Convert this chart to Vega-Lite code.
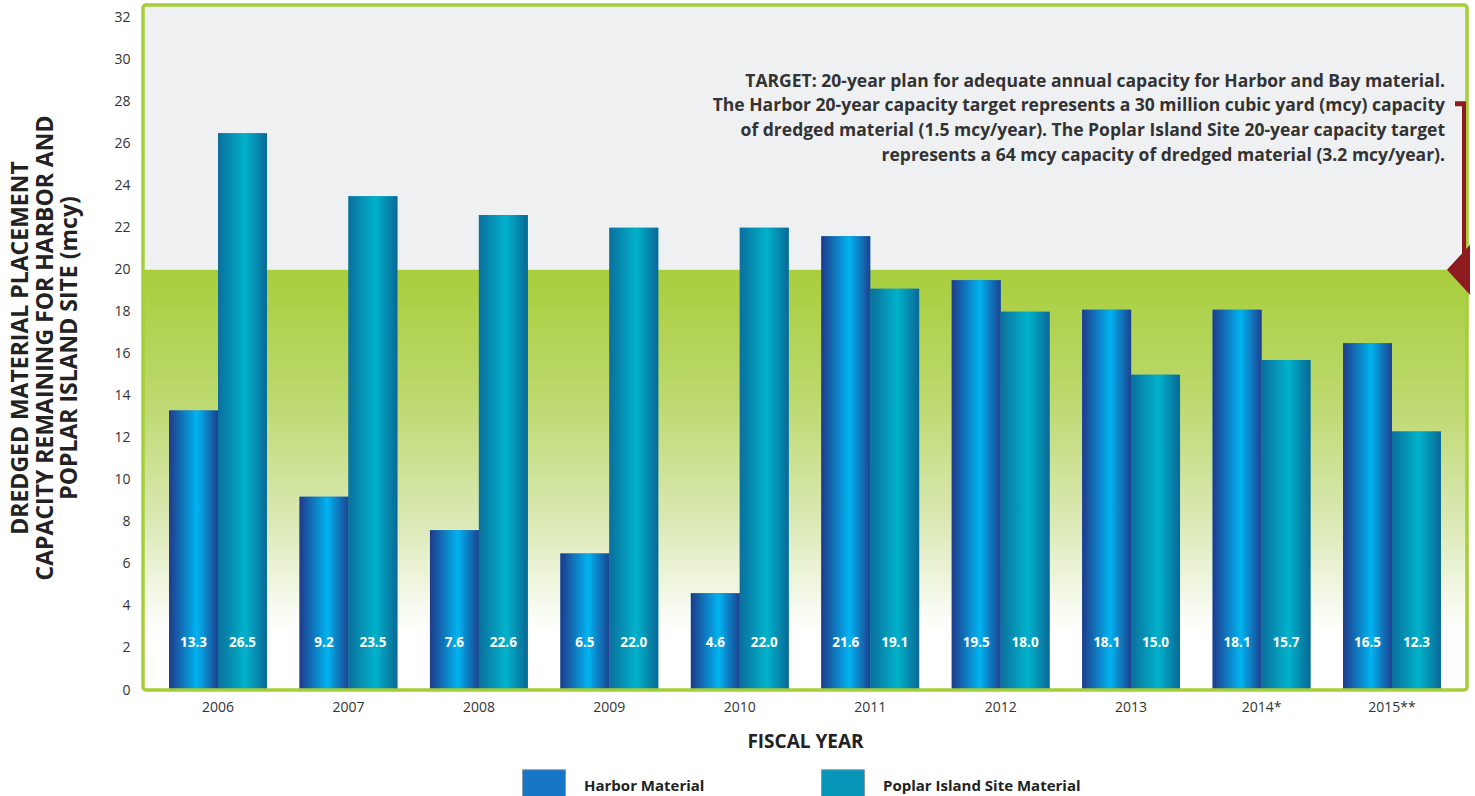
{
  "$schema": "https://vega.github.io/schema/vega-lite/v6.json",
  "width": 1324,
  "height": 685,
  "autosize": "none",
  "padding": {"left": 143, "top": 5, "right": 8, "bottom": 106},
  "background": "white",
  "config": {"view": {"stroke": null}, "font": "Open Sans"},
  "data": {
    "values": [
      {"year": "2006", "material": "Harbor Material", "value": 13.3},
      {"year": "2006", "material": "Poplar Island Site Material", "value": 26.5},
      {"year": "2007", "material": "Harbor Material", "value": 9.2},
      {"year": "2007", "material": "Poplar Island Site Material", "value": 23.5},
      {"year": "2008", "material": "Harbor Material", "value": 7.6},
      {"year": "2008", "material": "Poplar Island Site Material", "value": 22.6},
      {"year": "2009", "material": "Harbor Material", "value": 6.5},
      {"year": "2009", "material": "Poplar Island Site Material", "value": 22.0},
      {"year": "2010", "material": "Harbor Material", "value": 4.6},
      {"year": "2010", "material": "Poplar Island Site Material", "value": 22.0},
      {"year": "2011", "material": "Harbor Material", "value": 21.6},
      {"year": "2011", "material": "Poplar Island Site Material", "value": 19.1},
      {"year": "2012", "material": "Harbor Material", "value": 19.5},
      {"year": "2012", "material": "Poplar Island Site Material", "value": 18.0},
      {"year": "2013", "material": "Harbor Material", "value": 18.1},
      {"year": "2013", "material": "Poplar Island Site Material", "value": 15.0},
      {"year": "2014*", "material": "Harbor Material", "value": 18.1},
      {"year": "2014*", "material": "Poplar Island Site Material", "value": 15.7},
      {"year": "2015**", "material": "Harbor Material", "value": 16.5},
      {"year": "2015**", "material": "Poplar Island Site Material", "value": 12.3}
    ]
  },
  "layer": [
    {
      "data": {"values": [{}]},
      "mark": {"type": "rect", "fill": "#eff0f2"},
      "encoding": {
        "y": {
          "datum": 20, "type": "quantitative", "scale": {"domain": [0, 32.6], "nice": false},
          "axis": {
            "title": ["DREDGED MATERIAL PLACEMENT", "CAPACITY REMAINING FOR HARBOR AND", "POPLAR ISLAND SITE (mcy)"],
            "values": [0, 2, 4, 6, 8, 10, 12, 14, 16, 18, 20, 22, 24, 26, 28, 30, 32],
            "labelFontSize": 14, "labelColor": "#333", "ticks": false, "domain": false, "grid": false, "labelPadding": 13,
            "titleFontSize": 23, "titleFontWeight": "bold", "titleColor": "#222", "titleLineHeight": 24.5, "titlePadding": 32
          }
        },
        "y2": {"datum": 32.6}
      }
    },
    {
      "data": {"values": [{}]},
      "mark": {
        "type": "rect",
        "fill": {
          "gradient": "linear", "x1": 0, "y1": 0, "x2": 0, "y2": 1,
          "stops": [
            {"offset": 0, "color": "#a8ce3c"},
            {"offset": 0.3, "color": "#bcd86c"},
            {"offset": 0.6, "color": "#dbe9b5"},
            {"offset": 0.86, "color": "#ffffff"},
            {"offset": 1, "color": "#ffffff"}
          ]
        }
      },
      "encoding": {
        "y": {"datum": 0, "type": "quantitative"},
        "y2": {"datum": 20}
      }
    },
    {
      "mark": {"type": "bar"},
      "encoding": {
        "x": {
          "field": "year", "type": "nominal",
          "scale": {"paddingInner": 0.25, "paddingOuter": 0.2},
          "axis": {"title": "FISCAL YEAR", "labelAngle": 0, "labelFontSize": 14, "labelColor": "#333", "ticks": false, "domain": false, "labelPadding": 10,
                   "titleFontSize": 19, "titleFontWeight": "bold", "titleColor": "#222", "titlePadding": 18}
        },
        "xOffset": {"field": "material", "type": "nominal", "scale": {"paddingInner": 0, "paddingOuter": 0}},
        "y": {"field": "value", "type": "quantitative"},
        "color": {
          "field": "material", "type": "nominal",
          "scale": {"domain": ["Harbor Material", "Poplar Island Site Material"], "range": ["#1677c9", "#0896b8"]},
          "legend": {
            "orient": "none", "legendX": 379, "legendY": 764, "direction": "horizontal", "title": null,
            "symbolType": "square", "symbolSize": 1849, "symbolStrokeColor": "#8899aa", "symbolStrokeWidth": 1, "symbolOpacity": 1,
            "labelFontSize": 15, "labelFontWeight": "bold", "labelColor": "#222", "labelOffset": 18, "columnPadding": 114, "labelLimit": 400,
            "labelBaseline": "alphabetic"
          }
        }
      }
    },
    {
      "mark": {"type": "bar"},
      "encoding": {
        "x": {"field": "year", "type": "nominal"},
        "xOffset": {"field": "material", "type": "nominal"},
        "y": {"field": "value", "type": "quantitative"},
        "fill": {
          "condition": {
            "test": "datum.material === 'Harbor Material'",
            "value": {"gradient": "linear", "x1": 0, "y1": 0, "x2": 1, "y2": 0,
                      "stops": [{"offset": 0, "color": "#1f3a8a"}, {"offset": 0.57, "color": "#00b4f0"}, {"offset": 1, "color": "#1d418f"}]}
          },
          "value": {"gradient": "linear", "x1": 0, "y1": 0, "x2": 1, "y2": 0,
                    "stops": [{"offset": 0, "color": "#0b6f9c"}, {"offset": 0.55, "color": "#00b2cb"}, {"offset": 1, "color": "#0a6896"}]}
        }
      }
    },
    {
      "mark": {"type": "text", "color": "white", "fontSize": 13.5, "fontWeight": "bold", "baseline": "middle"},
      "encoding": {
        "x": {"field": "year", "type": "nominal"},
        "xOffset": {"field": "material", "type": "nominal"},
        "y": {"datum": 2.25, "type": "quantitative"},
        "text": {"field": "value", "type": "quantitative", "format": ".1f"}
      }
    },
    {
      "data": {"values": [{}]},
      "mark": {"type": "rect", "fill": null, "stroke": "#a6ce39", "strokeWidth": 3.5, "cornerRadius": 3},
      "encoding": {
        "y": {"datum": 0, "type": "quantitative"},
        "y2": {"datum": 32.6}
      }
    },
    {
      "data": {"values": [{}]},
      "mark": {"type": "rule", "stroke": "#8e1b20", "strokeWidth": 4},
      "encoding": {
        "x": {"value": {"expr": "width - 3"}},
        "y": {"datum": 27.9, "type": "quantitative"},
        "y2": {"datum": 20}
      }
    },
    {
      "data": {"values": [{}]},
      "mark": {"type": "rule", "stroke": "#8e1b20", "strokeWidth": 5},
      "encoding": {
        "x": {"value": {"expr": "width - 12"}},
        "x2": {"value": {"expr": "width - 1"}},
        "y": {"datum": 27.9, "type": "quantitative"}
      }
    },
    {
      "data": {"values": [{}]},
      "mark": {"type": "point", "shape": "M0.12,-1L-0.8,0L0.12,1Z", "filled": true, "fill": "#8e1b20", "opacity": 1, "size": 2500, "strokeWidth": 0},
      "encoding": {
        "x": {"value": "width"},
        "y": {"datum": 20, "type": "quantitative"}
      }
    },
    {
      "data": {"values": [{}]},
      "mark": {"type": "text", "align": "right", "baseline": "middle", "fontSize": 17.5, "fontWeight": "bold", "color": "#333", "lineHeight": 24.7,
               "text": ["TARGET: 20-year plan for adequate annual capacity for Harbor and Bay material.", "The Harbor 20-year capacity target represents a 30 million cubic yard (mcy) capacity", "of dredged material (1.5 mcy/year). The Poplar Island Site 20-year capacity target", "represents a 64 mcy capacity of dredged material (3.2 mcy/year)."]},
      "encoding": {
        "x": {"value": {"expr": "width - 22"}},
        "y": {"datum": 28.95, "type": "quantitative"}
      }
    }
  ]
}
